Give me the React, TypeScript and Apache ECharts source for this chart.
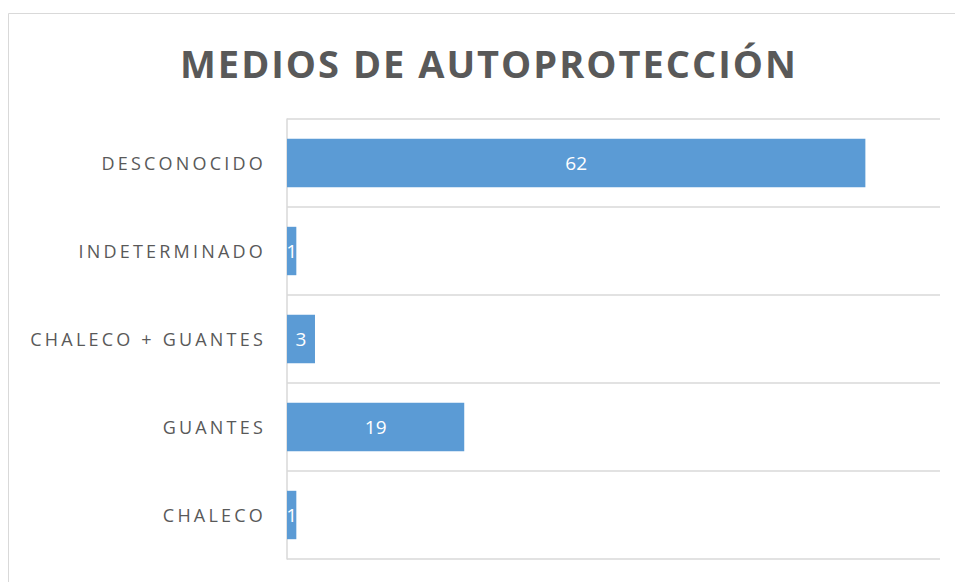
import React, { useEffect, useRef } from "react";
import * as echarts from "echarts";

const titleText = "MEDIOS DE AUTOPROTECCIÓN";
const categories = ["CHALECO", "GUANTES", "CHALECO + GUANTES", "INDETERMINADO", "DESCONOCIDO"];
const values = [1, 19, 3, 1, 62];

export default function App() {
  const ref = useRef<HTMLDivElement>(null);
  useEffect(() => {
    if (!ref.current) return;
    const chart = echarts.init(ref.current, undefined, { renderer: "svg" });
    chart.setOption({
      animation: false,
      backgroundColor: "#ffffff",
      graphic: [
        {
          type: "rect",
          shape: { x: 8.5, y: 13.5, width: 980, height: 620 },
          style: { fill: "none", stroke: "#d9d9d9", lineWidth: 1 },
          silent: true,
        },
        {
          type: "text",
          x: 489,
          y: 63,
          silent: true,
          style: {
            text: titleText,
            textAlign: "center",
            textVerticalAlign: "middle",
            fontFamily: "Open Sans",
            fontWeight: "bold",
            fontSize: 38,
            fill: "#595959",
          },
        },
      ],
      grid: { left: 287, right: 15, top: 119, bottom: 23 },
      xAxis: {
        type: "value",
        min: 0,
        max: 70,
        show: false,
        splitLine: { show: false },
      },
      yAxis: {
        type: "category",
        data: categories,
        axisTick: { show: false },
        axisLine: { show: true, lineStyle: { color: "#d9d9d9", width: 1.5 } },
        splitLine: { show: true, lineStyle: { color: "#d9d9d9", width: 1.5 } },
        axisLabel: {
          fontFamily: "Open Sans",
          fontSize: 18,
          color: "#595959",
          margin: 21,
        },
      },
      series: [
        {
          type: "bar",
          data: values,
          barWidth: "55%",
          itemStyle: { color: "#5B9BD5" },
          label: {
            show: true,
            position: "inside",
            color: "#ffffff",
            fontFamily: "Open Sans",
            fontSize: 19,
          },
        },
      ],
    });
    const svg = ref.current.querySelector("svg");
    if (svg) {
      svg.querySelectorAll("text").forEach((t) => {
        const s = t.textContent || "";
        if (categories.includes(s)) t.setAttribute("letter-spacing", "3.2");
        else if (s === titleText) t.setAttribute("letter-spacing", "2");
      });
    }
    return () => chart.dispose();
  }, []);
  return (
    <div
      ref={ref}
      style={{ position: "fixed", left: 0, top: 0, width: 955, height: 582 }}
    />
  );
}
